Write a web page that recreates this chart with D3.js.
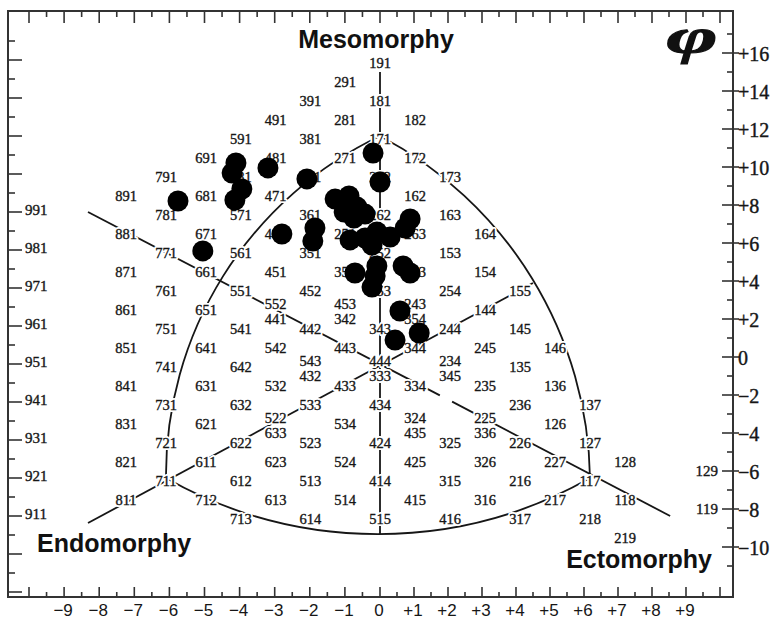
<!DOCTYPE html>
<html>
<head>
<meta charset="utf-8">
<script src="https://cdn.jsdelivr.net/npm/d3@7"></script>
<style>
body { margin: 0; background: #fff; }
svg { display: block; }
</style>
</head>
<body>
<svg width="772" height="619"></svg>
<script>
// somatotype codes printed on the chart (endo, meso, ecto)
var gridCodes = [
  "891","881","871","861","851","841","831","821","811",
  "791","781","771","761","751","741","731","721","711",
  "691","681","671","661","651","641","631","621","611","712",
  "591","581","571","561","551","541","642","632","622","612","713",
  "491","481","471","461","451","552","441","542","532","522","633","623","613",
  "391","381","371","361","351","452","442","543","432","533","523","513","614",
  "291","281","271","372","251","352","453","342","443","433","534","524","514",
  "191","181","171","272","262","252","353","343","444","333","434","424","414","515",
  "182","172","162","263","253","243","354","344","334","324","435","425","415",
  "173","163","153","254","244","234","345","325","315","416",
  "164","154","144","245","235","225","336","326","316",
  "155","145","135","236","226","216","317",
  "146","136","126","227","217",
  "137","127","117","218",
  "128","118","219"
];
var leftCodes = ["991","981","971","961","951","941","931","921","911"];
var rightCodes = ["129","119"];

var xTickValues = d3.range(-9, 10);
var yTickValues = [16, 14, 12, 10, 8, 6, 4, 2, 0, -2, -4, -6, -8, -10];

// subjects (X = ecto - endo, Y = 2*meso - endo - ecto)
var dotX = [-5.70, -5.08, -4.14, -4.25, -3.97, -4.17, -3.22, -2.10, -2.82, -1.87,
  -1.93, -0.20, 0.00, -1.29, -0.89, -0.66, -1.03, -0.75, -0.43, -0.86,
  -0.43, -0.09, 0.29, -0.23, 0.86, 0.72, -0.72, -0.09, -0.14, -0.23,
  0.66, 0.86, 0.57, 0.43, 1.12];
var dotY = [8.58, 5.95, 10.58, 10.05, 9.21, 8.63, 10.32, 9.74, 6.84, 7.16,
  6.47, 11.10, 9.58, 8.68, 8.84, 8.26, 8.00, 7.68, 7.89, 6.53,
  6.63, 6.95, 6.68, 6.26, 7.63, 7.16, 4.79, 5.16, 4.63, 4.05,
  5.16, 4.79, 2.79, 1.26, 1.63];

// chart outline corners (711, 171, 117) and the three axes
var apexes = [[-6, -6], [0, 12], [6, -6]];
var mesoAxis = [[0, 15.37], [0, -8.95]];
var endoAxis = [[-7.95, -8.37], [4.37, 4.26]];
var ectoAxis = [[[-7.95, 8.0], [1.71, -1.65]], [[2.06, -1.98], [8.29, -8.0]]];

var svg = d3.select("svg"),
  width = +svg.attr("width"),
  height = +svg.attr("height");

var frame = {left: 8, top: 11, right: 733, bottom: 597};
var ink = "#161616";

var x = d3.scaleLinear().domain([-7, -5, 0, 10]).range([126, 206, 380, 730]);
var y = d3.scaleLinear().domain([-12, 18]).range([592, 22]);
var xAxisScale = d3.scaleLinear().domain([-10, 0, 10]).range([29, 380, 720]);
var yAxisScale = d3.scaleLinear().domain([-12, 18]).range([585, 15]);

function signed(v) {
  if (v > 0) return "+" + v;
  if (v < 0) return "\u2212" + (-v);
  return "0";
}

// frame
svg.append("rect")
  .attr("x", frame.left).attr("y", frame.top)
  .attr("width", frame.right - frame.left)
  .attr("height", frame.bottom - frame.top)
  .attr("fill", "none").attr("stroke", "#333").attr("stroke-width", 2);

var ticks = svg.append("g").attr("stroke", "#333").attr("stroke-width", 1.6);

var halfSteps = d3.range(-20, 21).map(function(d) { return d / 2; });
halfSteps.forEach(function(v) {
  var major = v % 1 === 0, px = xAxisScale(v);
  ticks.append("line")
    .attr("x1", px).attr("x2", px)
    .attr("y1", frame.bottom).attr("y2", frame.bottom - (major ? 10 : 5));
  ticks.append("line")
    .attr("x1", px).attr("x2", px)
    .attr("y1", frame.top).attr("y2", frame.top + (major ? 12 : 6));
});

d3.range(-11, 18).forEach(function(v) {
  var major = v % 2 === 0, py = yAxisScale(v);
  ticks.append("line")
    .attr("x1", major ? 722 : 727).attr("x2", major ? 739 : frame.right)
    .attr("y1", py).attr("y2", py);
});

d3.range(-12, 18).forEach(function(v) {
  var major = v % 2 === 0, py = y(v);
  ticks.append("line")
    .attr("x1", frame.left).attr("x2", frame.left + (major ? 14 : 7))
    .attr("y1", py).attr("y2", py);
});

var serif = "Liberation Serif, Times New Roman, serif";

// bottom axis labels
svg.append("g").selectAll("text")
  .data(xTickValues)
  .enter().append("text")
  .attr("x", function(d) { return xAxisScale(d) - 1; })
  .attr("y", 616)
  .attr("text-anchor", "middle")
  .attr("font-family", "Liberation Sans, Arial, sans-serif")
  .attr("font-size", 17)
  .attr("fill", ink)
  .text(signed);

// right axis labels
svg.append("g").selectAll("text")
  .data(yTickValues)
  .enter().append("text")
  .attr("x", 738)
  .attr("y", function(d) { return yAxisScale(d) + 1; })
  .attr("dominant-baseline", "central")
  .attr("font-family", serif)
  .attr("font-size", 20)
  .attr("fill", ink)
  .attr("stroke", ink).attr("stroke-width", 0.4)
  .text(signed);

svg.append("g").selectAll("text")
  .data(rightCodes)
  .enter().append("text")
  .attr("x", 718)
  .attr("y", function(d) { return yAxisScale(2 * d[1] - d[0] - d[2]); })
  .attr("text-anchor", "end")
  .attr("dominant-baseline", "central")
  .attr("font-family", serif)
  .attr("font-size", 15)
  .attr("fill", ink)
  .attr("stroke", ink).attr("stroke-width", 0.35)
  .text(function(d) { return d; });

svg.append("g").selectAll("text")
  .data(leftCodes)
  .enter().append("text")
  .attr("x", 25)
  .attr("y", function(d) { return y(2 * d[1] - d[0] - d[2]) - 2; })
  .attr("dominant-baseline", "central")
  .attr("font-family", serif)
  .attr("font-size", 15)
  .attr("fill", ink)
  .attr("stroke", ink).attr("stroke-width", 0.35)
  .text(function(d) { return d; });

// outline and axes
var v = apexes.map(function(d) { return [x(d[0]), y(d[1])]; });
var radii = [376, 393, 429];
var outline = "M" + v[0]
  + "A" + radii[0] + "," + radii[0] + " 0 0 1 " + v[1]
  + "A" + radii[1] + "," + radii[1] + " 0 0 1 " + v[2]
  + "A" + radii[2] + "," + radii[2] + " 0 0 1 " + v[0];

var lines = svg.append("g")
  .attr("fill", "none").attr("stroke", ink).attr("stroke-width", 1.8);

lines.append("path").attr("d", outline);

var line = d3.line()
  .x(function(d) { return x(d[0]); })
  .y(function(d) { return y(d[1]); });

[mesoAxis, endoAxis, ectoAxis[0], ectoAxis[1]].forEach(function(seg) {
  lines.append("path").attr("d", line(seg));
});

// grid labels
var slots = {};
var labels = gridCodes.map(function(c) {
  var endo = +c[0], meso = +c[1], ecto = +c[2];
  var d = {code: c, X: ecto - endo, Y: 2 * meso - endo - ecto};
  var key = d.X + "," + d.Y;
  slots[key] = slots[key] === undefined ? 0 : slots[key] + 1;
  d.slot = slots[key];
  return d;
});
labels.forEach(function(d) { d.stacked = slots[d.X + "," + d.Y] > 0; });

function labelY(d) {
  var off = d.stacked ? (d.slot === 0 ? -3 : 12) : 3;
  return y(d.Y) + off;
}

svg.append("g").selectAll("text")
  .data(labels)
  .enter().append("text")
  .attr("x", function(d) { return x(d.X); })
  .attr("y", labelY)
  .attr("text-anchor", "middle")
  .attr("dominant-baseline", "central")
  .attr("font-family", serif)
  .attr("font-size", 14.5)
  .attr("fill", "none")
  .attr("stroke", "#fff")
  .attr("stroke-width", 4)
  .attr("stroke-linejoin", "round")
  .text(function(d) { return d.code; });

svg.append("g").selectAll("text")
  .data(labels)
  .enter().append("text")
  .attr("x", function(d) { return x(d.X); })
  .attr("y", labelY)
  .attr("text-anchor", "middle")
  .attr("dominant-baseline", "central")
  .attr("font-family", serif)
  .attr("font-size", 14.5)
  .attr("fill", ink)
  .attr("stroke", ink).attr("stroke-width", 0.35)
  .text(function(d) { return d.code; });

// subjects
svg.append("g").selectAll("circle")
  .data(dotX)
  .enter().append("circle")
  .attr("cx", function(d) { return x(d); })
  .attr("cy", function(d, i) { return y(dotY[i]); })
  .attr("r", 10.5)
  .attr("fill", "#000");

// titles
var titles = svg.append("g")
  .attr("font-family", "Liberation Sans, Arial, sans-serif")
  .attr("font-weight", "bold")
  .attr("font-size", 25)
  .attr("fill", "#111");

titles.append("text").attr("x", 376).attr("y", 48)
  .attr("text-anchor", "middle").text("Mesomorphy");
titles.append("text").attr("x", 37).attr("y", 552).text("Endomorphy");
titles.append("text").attr("x", 712).attr("y", 568)
  .attr("text-anchor", "end").text("Ectomorphy");

svg.append("text")
  .attr("transform", "translate(692,53) scale(1.75,1)")
  .attr("text-anchor", "middle")
  .attr("font-family", "Liberation Serif, serif")
  .attr("font-style", "italic")
  .attr("font-weight", "bold")
  .attr("font-size", 50)
  .attr("fill", "#111")
  .attr("stroke", "#111").attr("stroke-width", 1)
  .text("\u03c6");
</script>
</body>
</html>
